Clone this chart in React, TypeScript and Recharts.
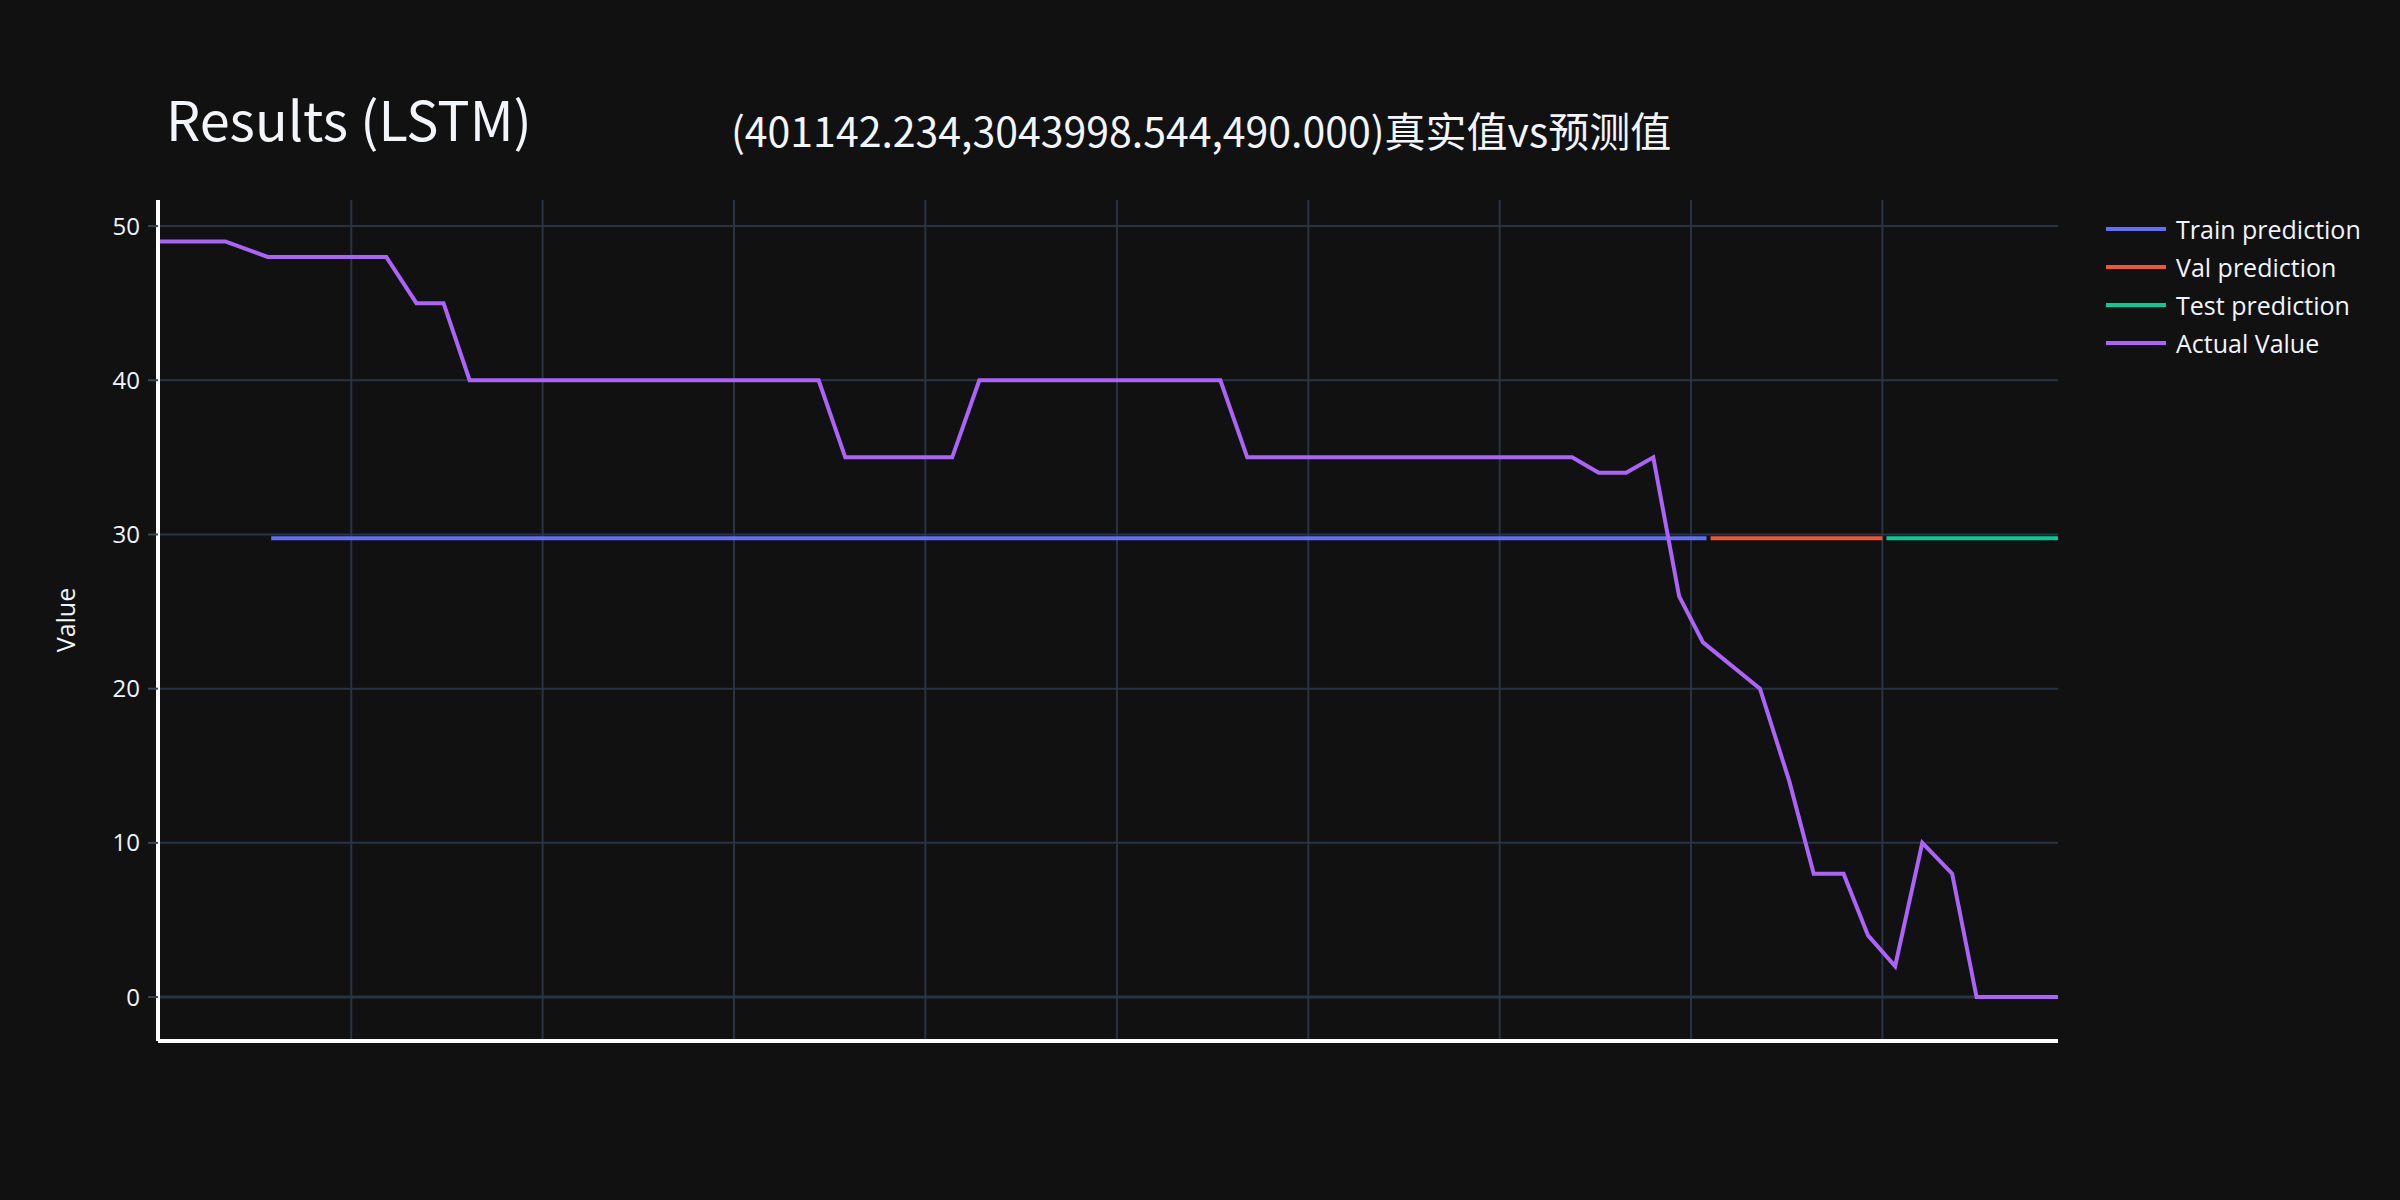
import React from "react";
import { LineChart, Line, XAxis, YAxis, Legend, ReferenceLine } from "recharts";

// x is the sample position along the series (0 = first sample)
const ACTUAL_X = [
  0, 2.48, 4.04, 8.41, 9.52, 10.52, 11.48, 24.34, 25.32, 29.26, 30.26, 39.14,
  40.13, 52.1, 53.08, 54.09, 55.09, 56.04, 56.92, 59.02, 60.1, 61, 62.1, 63,
  64, 65, 66.1, 67, 70,
];
const ACTUAL_Y = [
  49, 49, 48, 48, 45, 45, 40, 40, 35, 35, 40, 40, 35, 35, 34, 34, 35, 26, 23,
  20, 14, 8, 8, 4, 2, 10, 8, 0, 0,
];

const TRAIN_X = [4.17, 57.05];
const TRAIN_Y = [29.75, 29.75];
const VAL_X = [57.2, 63.53];
const VAL_Y = [29.75, 29.75];
const TEST_X = [63.68, 70];
const TEST_Y = [29.76, 29.76];

const X_TICKS = [7.12, 14.17, 21.22, 28.27, 35.33, 42.38, 49.43, 56.48, 63.53];
const Y_TICKS = [0, 10, 20, 30, 40, 50];

const TITLE = "Results (LSTM)";
const SUBTITLE = "(401142.234,3043998.544,490.000)真实值vs预测值";

const BG = "#111111";
const GRID = "#283442";
const TEXT = "#f2f5fa";
const FONT = "'Open Sans', sans-serif";
const TITLE_FONT = "'Noto Sans CJK SC', sans-serif";

const zip = (xs: number[], ys: number[]) => xs.map((x, i) => ({ x, y: ys[i] }));

const SERIES = [
  { name: "Train prediction", color: "#636efa", data: zip(TRAIN_X, TRAIN_Y) },
  { name: "Val prediction", color: "#EF553B", data: zip(VAL_X, VAL_Y) },
  { name: "Test prediction", color: "#00cc96", data: zip(TEST_X, TEST_Y) },
  { name: "Actual Value", color: "#ab63fa", data: zip(ACTUAL_X, ACTUAL_Y) },
];

function LegendBox(props: any) {
  const order = SERIES.map((s) => s.name);
  const items = [...(props.payload ?? [])].sort(
    (a: any, b: any) => order.indexOf(a.value) - order.indexOf(b.value)
  );
  return (
    <div style={{ fontFamily: FONT, fontSize: 25, color: TEXT }}>
      {items.map((it: any) => (
        <div
          key={it.value}
          style={{ display: "flex", alignItems: "center", height: 38 }}
        >
          <div style={{ width: 60, height: 4, background: it.color }} />
          <span style={{ marginLeft: 10, lineHeight: "38px" }}>{it.value}</span>
        </div>
      ))}
    </div>
  );
}

export default function App() {
  return (
    <div
      style={{
        position: "absolute",
        left: 0,
        top: 0,
        width: 2400,
        height: 1200,
        background: BG,
      }}
    >
      <LineChart
        width={2400}
        height={1200}
        margin={{ top: 200, right: 342, left: 78, bottom: 129 }}
      >
        <XAxis
          type="number"
          dataKey="x"
          domain={[0, 70]}
          ticks={X_TICKS}
          tick={false}
          tickLine={false}
          axisLine={{ stroke: "#ffffff", strokeWidth: 4 }}
          allowDataOverflow
          height={30}
        />
        <YAxis
          type="number"
          dataKey="y"
          domain={[-2.85, 51.69]}
          ticks={Y_TICKS}
          width={80}
          tickSize={10}
          tickMargin={8}
          tickLine={{ stroke: "#3a4452", strokeWidth: 2 }}
          axisLine={{ stroke: "#ffffff", strokeWidth: 4 }}
          tick={{ fill: TEXT, fontSize: 24, fontFamily: FONT }}
          allowDataOverflow
        />
        {X_TICKS.map((t) => (
          <ReferenceLine key={"gx" + t} x={t} stroke={GRID} strokeWidth={2} />
        ))}
        {Y_TICKS.filter((t) => t !== 0).map((t) => (
          <ReferenceLine key={"gy" + t} y={t} stroke={GRID} strokeWidth={2} />
        ))}
        <ReferenceLine y={0} stroke={GRID} strokeWidth={3} />
        {SERIES.map((s) => (
          <Line
            key={s.name}
            data={s.data}
            dataKey="y"
            name={s.name}
            type="linear"
            stroke={s.color}
            strokeWidth={4}
            dot={false}
            activeDot={false}
            isAnimationActive={false}
          />
        ))}
        <Legend
          layout="horizontal"
          verticalAlign="middle"
          content={<LegendBox />}
          wrapperStyle={{ left: 2106, top: 210, width: 290, height: 160 }}
        />
      </LineChart>
      <svg
        width={2400}
        height={1200}
        style={{ position: "absolute", left: 0, top: 0, pointerEvents: "none" }}
      >
        <text x={166} y={141} fill={TEXT} fontSize={54} fontFamily={TITLE_FONT}>
          {TITLE}
        </text>
        <text x={731} y={147} fill={TEXT} fontSize={41} fontFamily={TITLE_FONT}>
          {SUBTITLE}
        </text>
        <text
          x={75}
          y={620}
          fill={TEXT}
          fontSize={25}
          fontFamily={FONT}
          textAnchor="middle"
          transform="rotate(-90, 75, 620)"
        >
          Value
        </text>
      </svg>
    </div>
  );
}
